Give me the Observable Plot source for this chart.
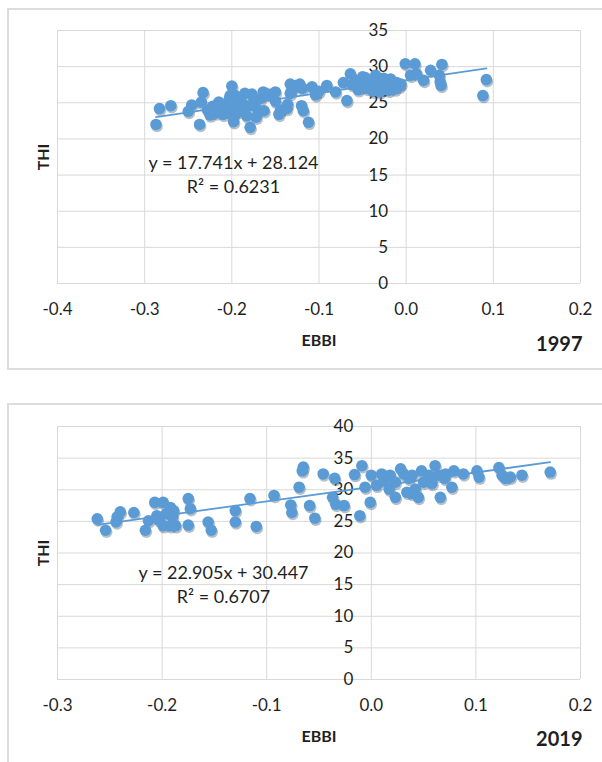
<!DOCTYPE html>
<html><head><meta charset="utf-8">
<script src="https://cdn.jsdelivr.net/npm/d3@7"></script>
<script src="https://cdn.jsdelivr.net/npm/@observablehq/plot@0.6"></script>
<style>
html,body{margin:0;padding:0;background:#fff;}
#wrap{position:relative;width:602px;height:762px;overflow:hidden;font-family:Lato,sans-serif;}
.frame{position:absolute;border:2px solid #dcdcdc;box-sizing:border-box;}
.panel{position:absolute;left:0;}
</style></head><body>
<div id="wrap">
  <div class="frame" style="left:7px;top:8px;width:640px;height:362px"></div>
  <div class="frame" style="left:7px;top:403px;width:640px;height:420px"></div>
  <div class="panel" id="p1" style="top:0"></div>
  <div class="panel" id="p2" style="top:380px"></div>
</div>
<script>
// ---------- 1997 ----------
const ebbi1997 = [-0.287,-0.283,-0.270,-0.250,-0.246,-0.237,-0.233,-0.235,
  -0.228,-0.225,-0.222,-0.218,-0.215,-0.212,-0.210,-0.207,-0.205,-0.203,-0.200,-0.198,-0.196,-0.194,-0.192,
  -0.200,-0.202,-0.198,-0.190,-0.188,-0.185,-0.183,-0.180,
  -0.179,-0.177,-0.175,-0.172,-0.170,-0.167,
  -0.164,-0.163,-0.158,-0.150,-0.150,-0.146,-0.144,
  -0.137,-0.133,-0.133,-0.136,-0.131,-0.127,-0.122,-0.120,-0.118,-0.119,-0.112,-0.108,-0.104,-0.100,
  -0.091,-0.081,-0.068,-0.072,-0.064,
  -0.062,-0.058,-0.055,-0.053,-0.050,-0.047,-0.045,-0.041,-0.038,-0.035,-0.033,-0.032,-0.030,-0.028,-0.026,-0.022,-0.020,-0.018,-0.016,-0.015,-0.013,-0.011,-0.008,-0.006,
  -0.001,0.010,0.005,0.012,0.020,0.028,0.041,0.038,0.039,0.040,0.088,0.092];
const thi1997 = [22.0,24.2,24.6,23.8,24.7,22.0,26.4,25.1,
  24.0,23.3,24.5,23.6,25.1,24.2,23.4,24.8,23.8,25.5,24.3,23.3,26.0,24.6,23.8,
  27.3,26.0,22.4,25.3,24.0,26.3,23.2,24.6,
  21.6,26.2,25.0,23.0,24.0,25.6,
  26.5,23.9,26.2,26.5,25.2,23.4,24.0,
  24.2,27.6,26.3,24.8,26.8,27.4,27.6,24.6,23.9,27.0,22.3,27.2,26.1,26.6,
  27.4,26.5,25.3,27.8,29.0,
  27.5,28.1,26.8,27.2,28.6,28.5,27.0,27.6,26.6,28.8,27.9,27.0,26.5,27.8,28.4,27.2,26.7,28.3,27.4,27.6,26.9,27.8,27.3,27.6,
  30.4,30.4,28.8,29.0,28.1,29.5,30.3,28.8,27.9,27.4,26.0,28.2];
const trendX1997 = [-0.287, 0.092];
const trendY1997 = [23.03, 29.76];
const xTicks1997 = [-0.4,-0.3,-0.2,-0.1,0.0,0.1,0.2];
const yTicks1997 = [0,5,10,15,20,25,30,35];
const eq1997 = "y = 17.741x + 28.124";
const r2_1997 = "R² = 0.6231";

// ---------- 2019 ----------
const ebbi2019 = [-0.262,-0.254,-0.244,-0.243,-0.240,-0.227,-0.216,-0.213,-0.207,-0.205,-0.203,-0.199,-0.199,-0.196,-0.192,-0.190,-0.192,-0.187,-0.189,
  -0.175,-0.173,-0.175,-0.156,-0.153,-0.130,-0.130,-0.116,-0.110,-0.093,-0.077,-0.076,-0.069,-0.066,-0.065,-0.059,-0.054,-0.046,-0.035,-0.037,-0.034,-0.026,
  -0.016,-0.009,-0.011,-0.001,-0.006,0.005,0.000,0.010,0.018,0.023,0.028,0.031,0.039,0.042,0.048,0.050,0.055,0.061,0.064,0.071,0.079,0.077,0.088,
  0.017,0.023,0.034,0.039,0.045,0.066,0.012,0.036,0.058,0.070,
  0.101,0.103,0.122,0.125,0.128,0.133,0.144,0.171];
const thi2019 = [25.4,23.6,24.9,25.7,26.5,26.4,23.6,25.1,28.0,25.9,25.2,28.0,24.3,26.2,27.2,25.7,24.3,24.3,26.7,
  28.6,27.0,24.4,24.9,23.6,26.7,24.9,28.6,24.2,29.1,27.6,26.4,30.4,33.0,33.6,27.5,25.5,32.5,31.8,28.8,27.7,27.5,
  32.4,33.8,25.9,28.0,30.4,30.7,32.3,32.5,32.3,31.2,33.3,32.5,32.3,30.1,33.0,31.2,32.3,33.8,32.3,32.5,33.0,30.4,32.5,
  30.1,28.8,29.6,29.4,28.8,28.8,31.5,31.8,31.0,31.8,
  33.0,32.0,33.5,32.3,31.8,32.0,32.3,32.8];
const trendX2019 = [-0.262, 0.171];
const trendY2019 = [24.45, 34.36];
const xTicks2019 = [-0.3,-0.2,-0.1,0.0,0.1,0.2];
const yTicks2019 = [0,5,10,15,20,25,30,35,40];
const eq2019 = "y = 22.905x + 30.447";
const r2_2019 = "R² = 0.6707";

const BLUE = "#5b9bd5", GRID = "#d9d9d9", INK = "#1f1f1f";

function panel(cfg) {
  const pts = cfg.xs.map((x, i) => ({x, y: cfg.ys[i]}));
  const trend = cfg.tx.map((x, i) => ({x, y: cfg.ty[i]}));
  return Plot.plot({
    width: 602, height: cfg.height,
    marginLeft: 57, marginRight: 22, marginTop: cfg.marginTop, marginBottom: cfg.marginBottom,
    x: {domain: [cfg.xTicks[0], cfg.xTicks[cfg.xTicks.length - 1]], axis: null},
    y: {domain: [cfg.yTicks[0], cfg.yTicks[cfg.yTicks.length - 1]], axis: null},
    style: {fontFamily: "Lato, sans-serif", background: "transparent", overflow: "visible"},
    marks: [
      Plot.gridX(cfg.xTicks, {stroke: GRID, strokeOpacity: 1, strokeWidth: 1}),
      Plot.gridY(cfg.yTicks, {stroke: GRID, strokeOpacity: 1, strokeWidth: 1}),
      Plot.text(cfg.xTicks, {x: d => d, frameAnchor: "bottom", lineAnchor: "middle", dy: 26, text: d => d.toFixed(1), fontSize: 17, fill: INK}),
      Plot.text(cfg.yTicks, {x: () => 0, y: d => d, text: d => String(d), textAnchor: "end", lineAnchor: "middle", dx: -18, fontSize: 17, fill: INK}),
      Plot.dot(pts, {x: "x", y: "y", r: 5.8, fill: "#2c4a68", fillOpacity: 0.35, dx: 1, dy: 2}),
      Plot.dot(pts, {x: "x", y: "y", r: 5.8, fill: BLUE}),
      Plot.line(trend, {x: "x", y: "y", stroke: BLUE, strokeWidth: 1.8}),
      Plot.text([cfg.eq], {frameAnchor: "top-left", textAnchor: "middle", lineAnchor: "middle", dx: cfg.eqDx, dy: cfg.eqDy, text: d => d, fontSize: 18, fill: INK}),
      Plot.text([cfg.r2], {frameAnchor: "top-left", textAnchor: "middle", lineAnchor: "middle", dx: cfg.eqDx, dy: cfg.eqDy + 24, text: d => d, fontSize: 18, fill: INK}),
      Plot.text(["EBBI"], {frameAnchor: "bottom", textAnchor: "middle", lineAnchor: "middle", dy: 57, text: d => d, fontSize: 16, fontWeight: "bold", fill: INK}),
      Plot.text([cfg.year], {frameAnchor: "bottom-right", textAnchor: "end", lineAnchor: "middle", dx: 2, dy: cfg.yearDy, text: d => d, fontSize: 20, fontWeight: "bold", fill: INK}),
      Plot.text(["THI"], {frameAnchor: "left", textAnchor: "middle", lineAnchor: "middle", dx: -14, rotate: -90, text: d => d, fontSize: 16, fontWeight: "bold", fill: INK})
    ]
  });
}

document.getElementById("p1").append(panel({
  xs: ebbi1997, ys: thi1997, tx: trendX1997, ty: trendY1997,
  xTicks: xTicks1997, yTicks: yTicks1997, eq: eq1997, r2: r2_1997, year: "1997",
  height: 380, marginTop: 30, marginBottom: 97, eqDx: 176, eqDy: 133, yearDy: 61
}));
document.getElementById("p2").append(panel({
  xs: ebbi2019, ys: thi2019, tx: trendX2019, ty: trendY2019,
  xTicks: xTicks2019, yTicks: yTicks2019, eq: eq2019, r2: r2_2019, year: "2019",
  height: 382, marginTop: 46, marginBottom: 83, eqDx: 166, eqDy: 147, yearDy: 60
}));
</script>
</body></html>
